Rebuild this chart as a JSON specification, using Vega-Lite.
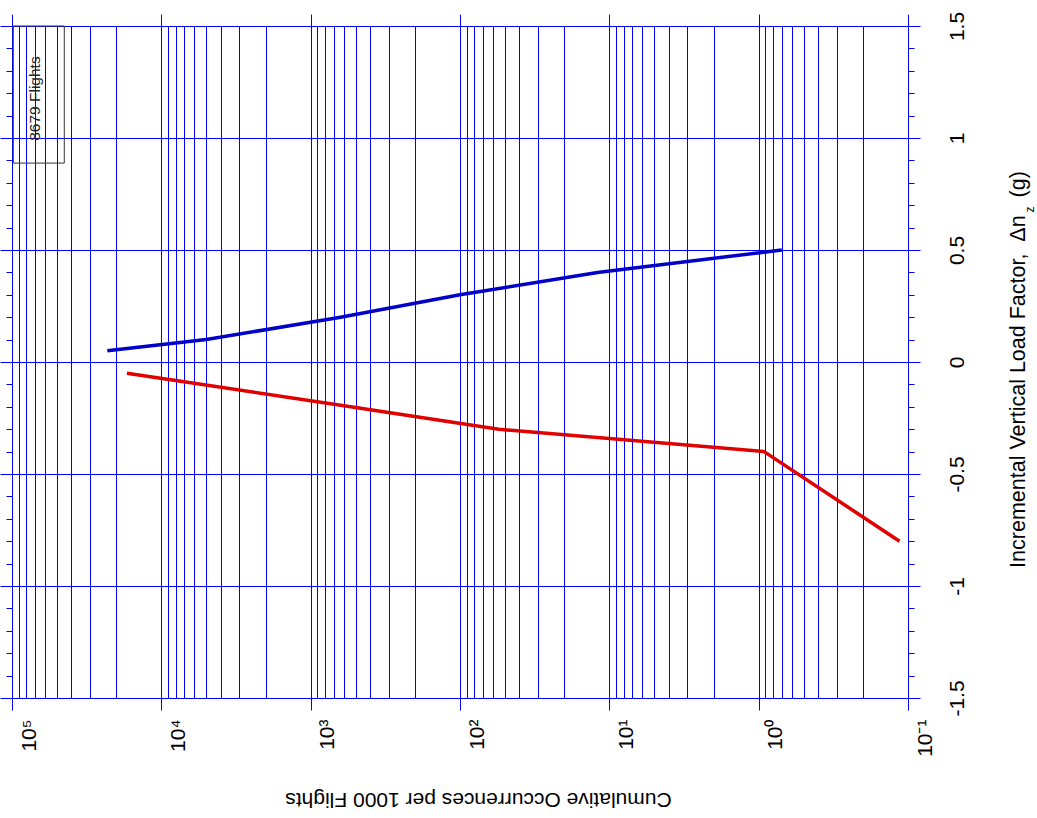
{
  "$schema": "https://vega.github.io/schema/vega-lite/v6.json",
  "width": 896,
  "height": 672,
  "autosize": {"type": "none"},
  "padding": {"left": 12, "top": 26, "right": 129, "bottom": 120},
  "background": "white",
  "config": {
    "view": {"stroke": null},
    "font": "Liberation Sans",
    "axis": {
      "labelFont": "Liberation Sans",
      "titleFont": "Liberation Sans",
      "labelColor": "#000000",
      "titleColor": "#000000",
      "titleFontWeight": "normal",
      "tickColor": "#0000ff",
      "tickWidth": 1,
      "gridColor": "#0000ff",
      "gridWidth": 1,
      "gridOpacity": 1,
      "domain": false,
      "labelFlush": false,
      "labelOverlap": false
    }
  },
  "datasets": {
    "curves": [
      {"sign": "positive", "occurrences": 23000, "dn": 0.05},
      {"sign": "positive", "occurrences": 5000, "dn": 0.1},
      {"sign": "positive", "occurrences": 630, "dn": 0.2},
      {"sign": "positive", "occurrences": 100, "dn": 0.3},
      {"sign": "positive", "occurrences": 12, "dn": 0.4},
      {"sign": "positive", "occurrences": 0.7, "dn": 0.5},
      {"sign": "negative", "occurrences": 17000, "dn": -0.05},
      {"sign": "negative", "occurrences": 5300, "dn": -0.1},
      {"sign": "negative", "occurrences": 540, "dn": -0.2},
      {"sign": "negative", "occurrences": 55, "dn": -0.3},
      {"sign": "negative", "occurrences": 0.92, "dn": -0.4},
      {"sign": "negative", "occurrences": 0.114, "dn": -0.8}
    ],
    "notes": [{"text": "8679 Flights"}],
    "subscript": [{"text": "z"}]
  },
  "data": {"name": "curves"},
  "resolve": {"axis": {"x": "independent", "y": "independent"}},
  "layer": [
    {
      "transform": [{"filter": "datum.sign === 'positive'"}],
      "mark": {"type": "line", "color": "#0000c8", "strokeWidth": 3.5},
      "encoding": {
        "x": {
          "field": "occurrences", "type": "quantitative",
          "scale": {"type": "log", "domain": [0.1, 100000], "reverse": true, "nice": false},
          "axis": {
            "orient": "bottom", "grid": true, "ticks": false, "labels": false, "title": null,
            "values": [0.1, 0.2, 0.3, 0.4, 0.5, 0.6, 0.7, 0.8, 0.9, 1, 2, 3, 4, 5, 6, 7, 8, 9, 10, 20, 30, 40, 50, 60, 70, 80, 90, 100, 200, 300, 400, 500, 600, 700, 800, 900, 1000, 2000, 3000, 4000, 5000, 6000, 7000, 8000, 9000, 10000, 20000, 30000, 40000, 50000, 60000, 70000, 80000, 90000, 100000]
          }
        },
        "y": {
          "field": "dn", "type": "quantitative",
          "scale": {"domain": [-1.5, 1.5], "nice": false, "zero": false},
          "axis": {
            "orient": "right", "grid": false, "labels": false, "tickSize": 6, "title": null,
            "values": [-1.5, -1.4, -1.3, -1.2, -1.1, -1, -0.9, -0.8, -0.7, -0.6, -0.5, -0.4, -0.3, -0.2, -0.1, 0, 0.1, 0.2, 0.3, 0.4, 0.5, 0.6, 0.7, 0.8, 0.9, 1, 1.1, 1.2, 1.3, 1.4, 1.5]
          }
        }
      }
    },
    {
      "transform": [{"filter": "datum.sign === 'negative'"}],
      "mark": {"type": "line", "color": "#e00000", "strokeWidth": 3.5},
      "encoding": {
        "x": {
          "field": "occurrences", "type": "quantitative",
          "scale": {"type": "log", "domain": [0.1, 100000], "reverse": true, "nice": false},
          "axis": {
            "orient": "top", "grid": false, "labels": false, "tickSize": 12, "title": null,
            "values": [0.1, 1, 10, 100, 1000, 10000, 100000]
          }
        },
        "y": {
          "field": "dn", "type": "quantitative",
          "scale": {"domain": [-1.5, 1.5], "nice": false, "zero": false},
          "axis": {
            "orient": "right", "grid": true, "tickSize": 12,
            "values": [-1.5, -1, -0.5, 0, 0.5, 1, 1.5],
            "labelExpr": "datum.value + ''",
            "labelAngle": 270, "labelAlign": "center", "labelBaseline": "top",
            "labelPadding": 26, "labelFontSize": 21,
            "title": "Incremental Vertical Load Factor,\u00a0\u00a0Δn\u00a0\u00a0\u00a0(g)",
            "titleAngle": 270, "titleAlign": "center", "titleBaseline": "middle",
            "titleX": 110, "titleY": 343, "titleFontSize": 21.5
          }
        }
      }
    },
    {
      "data": {"name": "notes"},
      "mark": {"type": "rect", "filled": false, "stroke": "#333333", "strokeWidth": 1},
      "encoding": {
        "x": {
          "datum": 98000, "type": "quantitative",
          "scale": {"type": "log", "domain": [0.1, 100000], "reverse": true, "nice": false},
          "axis": {
            "orient": "bottom", "grid": false, "tickSize": 12,
            "values": [0.1, 1, 10, 100, 1000, 10000, 100000],
            "labelExpr": "['10⁻¹', '10⁰', '10¹', '10²', '10³', '10⁴', '10⁵'][round(log(datum.value) / LN10) + 1]",
            "labelAngle": 270, "labelAlign": "right", "labelBaseline": "top",
            "labelOffset": 6, "labelPadding": 9, "labelFontSize": 21,
            "title": "Cumulative Occurrences per 1000 Flights",
            "titleAngle": 180, "titleAlign": "center", "titleBaseline": "middle",
            "titleX": 466, "titleY": 100, "titleFontSize": 21
          }
        },
        "x2": {"datum": 44650},
        "y": {
          "datum": 1.5, "type": "quantitative",
          "scale": {"domain": [-1.5, 1.5], "nice": false, "zero": false},
          "axis": {
            "orient": "left", "grid": false, "labels": false, "tickSize": 6, "title": null,
            "values": [-1.5, -1.4, -1.3, -1.2, -1.1, -1, -0.9, -0.8, -0.7, -0.6, -0.5, -0.4, -0.3, -0.2, -0.1, 0, 0.1, 0.2, 0.3, 0.4, 0.5, 0.6, 0.7, 0.8, 0.9, 1, 1.1, 1.2, 1.3, 1.4, 1.5]
          }
        },
        "y2": {"datum": 0.888}
      }
    },
    {
      "data": {"name": "notes"},
      "mark": {"type": "text", "angle": 270, "fontSize": 15.5, "color": "#222222", "align": "center", "baseline": "middle", "font": "Liberation Sans"},
      "encoding": {
        "x": {"datum": 69700, "type": "quantitative", "axis": null},
        "y": {
          "datum": 1.176, "type": "quantitative",
          "axis": {
            "orient": "left", "grid": false, "labels": false, "tickSize": 12, "title": null,
            "values": [-1.5, -1, -0.5, 0, 0.5, 1, 1.5]
          }
        },
        "text": {"field": "text"}
      }
    },
    {
      "data": {"name": "subscript"},
      "mark": {"type": "text", "angle": 270, "fontSize": 12, "color": "#000000", "align": "center", "baseline": "middle", "font": "Liberation Sans"},
      "encoding": {
        "x": {"datum": 0.0152, "type": "quantitative", "axis": null},
        "y": {"datum": 0.681, "type": "quantitative", "axis": null},
        "text": {"field": "text"}
      }
    }
  ]
}
